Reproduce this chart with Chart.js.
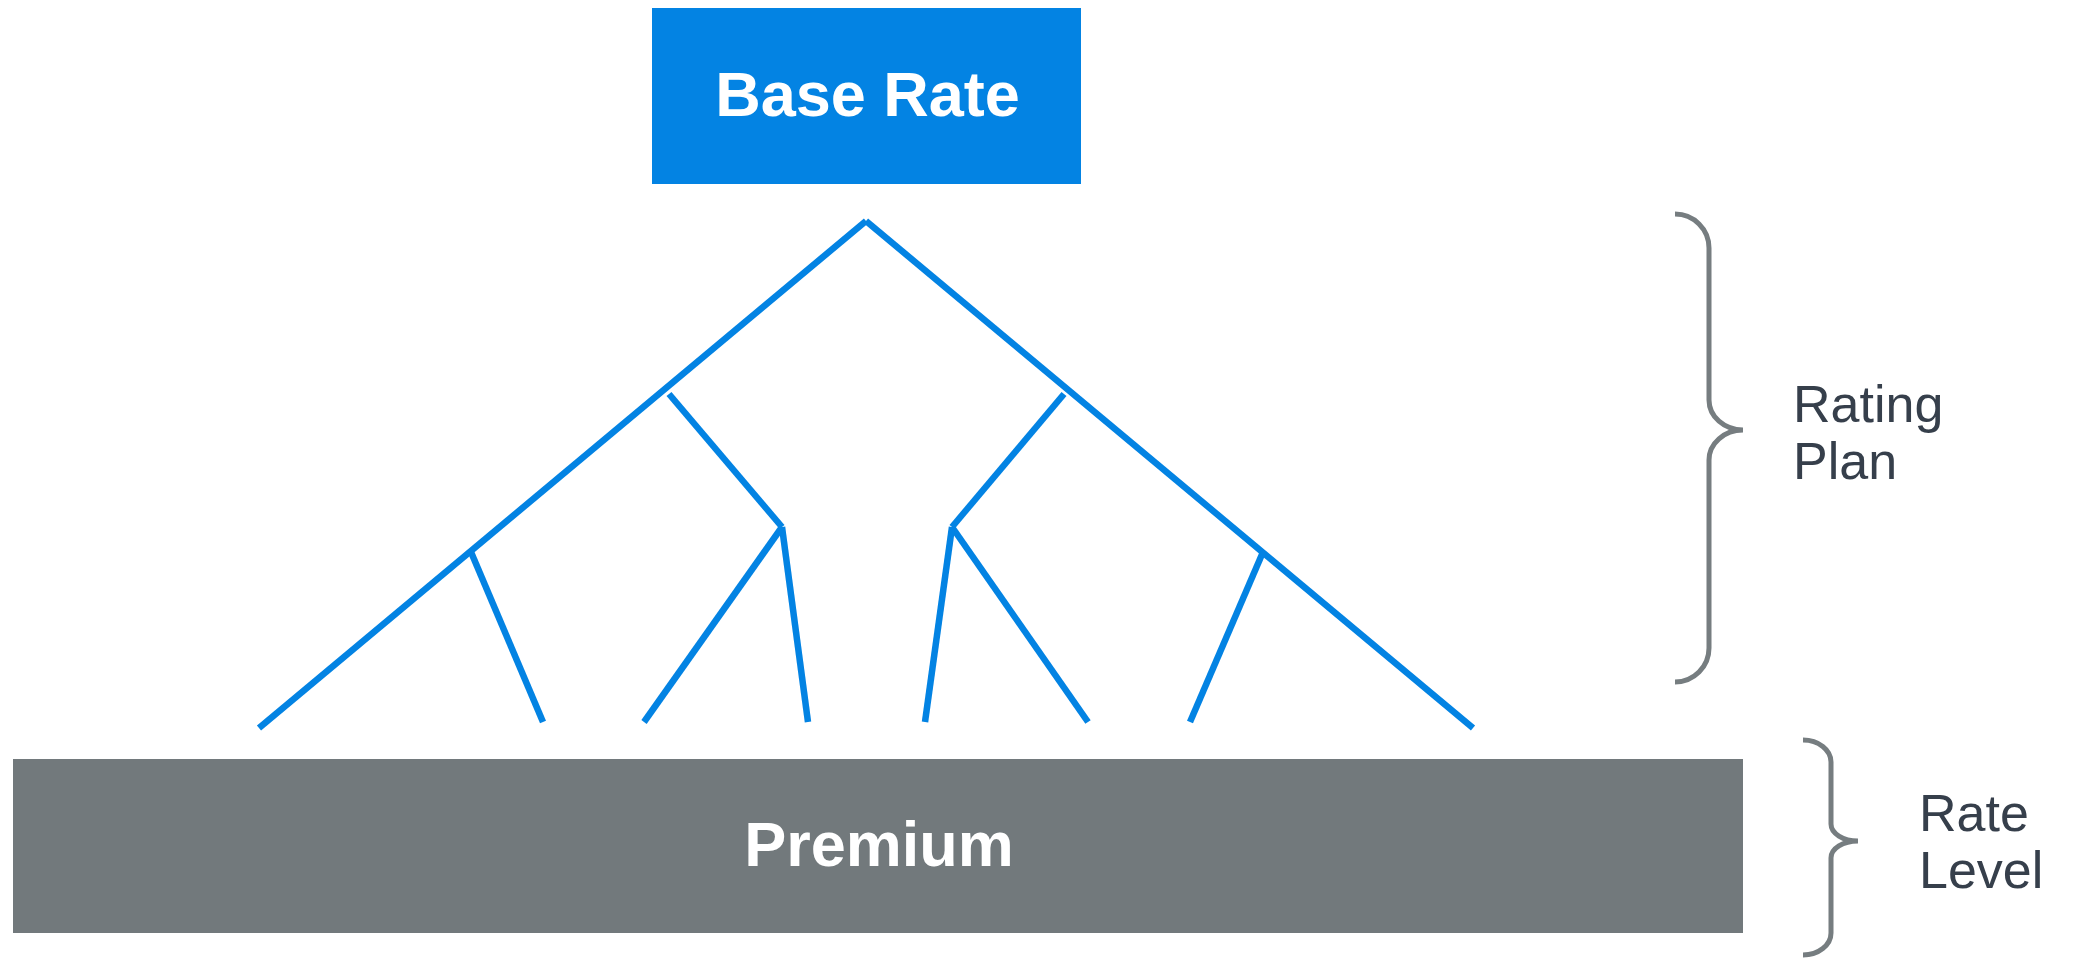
<!DOCTYPE html>
<html>
<head>
<meta charset="utf-8">
<title>Base Rate to Premium</title>
<script src="https://cdn.jsdelivr.net/npm/chart.js@4.4.1/dist/chart.umd.min.js"></script>
<style>
  html, body { margin: 0; padding: 0; background: #fff; overflow: hidden; }
  canvas { display: block; }
</style>
</head>
<body>
<canvas id="diagram" width="2073" height="958"></canvas>
<script>
// diagram space is the picture itself: x 0..2073, y 0..958 (top down)
const boxNames = ['Base Rate', 'Premium'];
const boxLeft = [652, 13];
const boxRight = [1081, 1743];
const boxTop = [8, 759];
const boxBottom = [184, 933];
const boxBaseline = [116, 866];
const boxColors = ['#0383E3', '#72797C'];

// tree branches from the base rate down to the premium
const edgeFromX = [866, 866, 669, 782, 782, 471, 1064, 952, 952, 1263];
const edgeFromY = [221, 221, 394, 527, 527, 552, 394, 527, 527, 552];
const edgeToX = [259, 1473, 782, 644, 808, 543, 952, 925, 1088, 1190];
const edgeToY = [728, 728, 527, 722, 722, 722, 527, 722, 722, 722];

// curly braces on the right
const braceLabels = [['Rating', 'Plan'], ['Rate', 'Level']];
const braceTop = [214, 740];
const braceBottom = [682, 955];
const braceMid = [430, 841];
const braceTipX = [1675, 1803];
const braceSpineX = [1709, 1831];
const bracePointX = [1743, 1858];
const braceEndR = [34, 22];
const braceMidR = [30, 17];
const labelX = [1793, 1919];
const labelY = [422, 831];

const datasets = [];

// boxes: a flat line along the top edge, filled down to the bottom edge
boxNames.forEach((name, i) => {
  datasets.push({
    type: 'line',
    label: name,
    data: [{ x: boxLeft[i], y: boxTop[i] }, { x: boxRight[i], y: boxTop[i] }],
    borderColor: 'rgba(0,0,0,0)',
    backgroundColor: boxColors[i],
    fill: { value: boxBottom[i] },
    pointRadius: 0,
    order: 2
  });
});

edgeFromX.forEach((x, i) => {
  datasets.push({
    type: 'line',
    label: 'edge' + i,
    data: [{ x: x, y: edgeFromY[i] }, { x: edgeToX[i], y: edgeToY[i] }],
    borderColor: '#0383E3',
    borderWidth: 6.5,
    borderCapStyle: 'butt',
    fill: false,
    pointRadius: 0,
    order: 1
  });
});

// braces and texts are drawn on the same scales
const labelsPlugin = {
  id: 'labels',
  afterDatasetsDraw(chart) {
    const ctx = chart.ctx;
    const xs = chart.scales.x;
    const ys = chart.scales.y;
    const px = v => xs.getPixelForValue(v);
    const py = v => ys.getPixelForValue(v);

    ctx.save();
    ctx.fillStyle = '#ffffff';
    ctx.font = 'bold 63px "Liberation Sans", Arial, sans-serif';
    ctx.textAlign = 'center';
    ctx.textBaseline = 'alphabetic';
    boxNames.forEach((name, i) => {
      const cx = (px(boxLeft[i]) + px(boxRight[i])) / 2;
      ctx.fillText(name, cx + 1, py(boxBaseline[i]));
    });

    ctx.strokeStyle = '#767D80';
    ctx.lineWidth = 5;
    braceTop.forEach((top, i) => {
      const tip = px(braceTipX[i]);
      const spine = px(braceSpineX[i]);
      const point = px(bracePointX[i]);
      const t = py(top);
      const b = py(braceBottom[i]);
      const m = py(braceMid[i]);
      const r = py(top + braceEndR[i]) - t;
      const r2 = py(top + braceMidR[i]) - t;
      ctx.beginPath();
      ctx.ellipse(tip, t + r, spine - tip, r, 0, -Math.PI / 2, 0);
      ctx.lineTo(spine, m - r2);
      ctx.ellipse(point, m - r2, point - spine, r2, 0, Math.PI, Math.PI / 2, true);
      ctx.ellipse(point, m + r2, point - spine, r2, 0, -Math.PI / 2, -Math.PI, true);
      ctx.lineTo(spine, b - r);
      ctx.ellipse(tip, b - r, spine - tip, r, 0, 0, Math.PI / 2);
      ctx.stroke();
    });

    ctx.fillStyle = '#363F4B';
    ctx.font = '52px "Liberation Sans", Arial, sans-serif';
    ctx.textAlign = 'left';
    braceLabels.forEach((lines, i) => {
      lines.forEach((line, j) => {
        ctx.fillText(line, px(labelX[i]), py(labelY[i] + j * 57));
      });
    });
    ctx.restore();
  }
};

new Chart(document.getElementById('diagram').getContext('2d'), {
  type: 'scatter',
  data: { datasets: datasets },
  options: {
    responsive: false,
    animation: false,
    events: [],
    layout: { padding: 0 },
    plugins: {
      legend: { display: false },
      tooltip: { enabled: false }
    },
    scales: {
      x: { type: 'linear', min: 0, max: 2073, display: false },
      y: { type: 'linear', min: 0, max: 958, reverse: true, display: false }
    }
  },
  plugins: [labelsPlugin]
});
</script>
</body>
</html>
